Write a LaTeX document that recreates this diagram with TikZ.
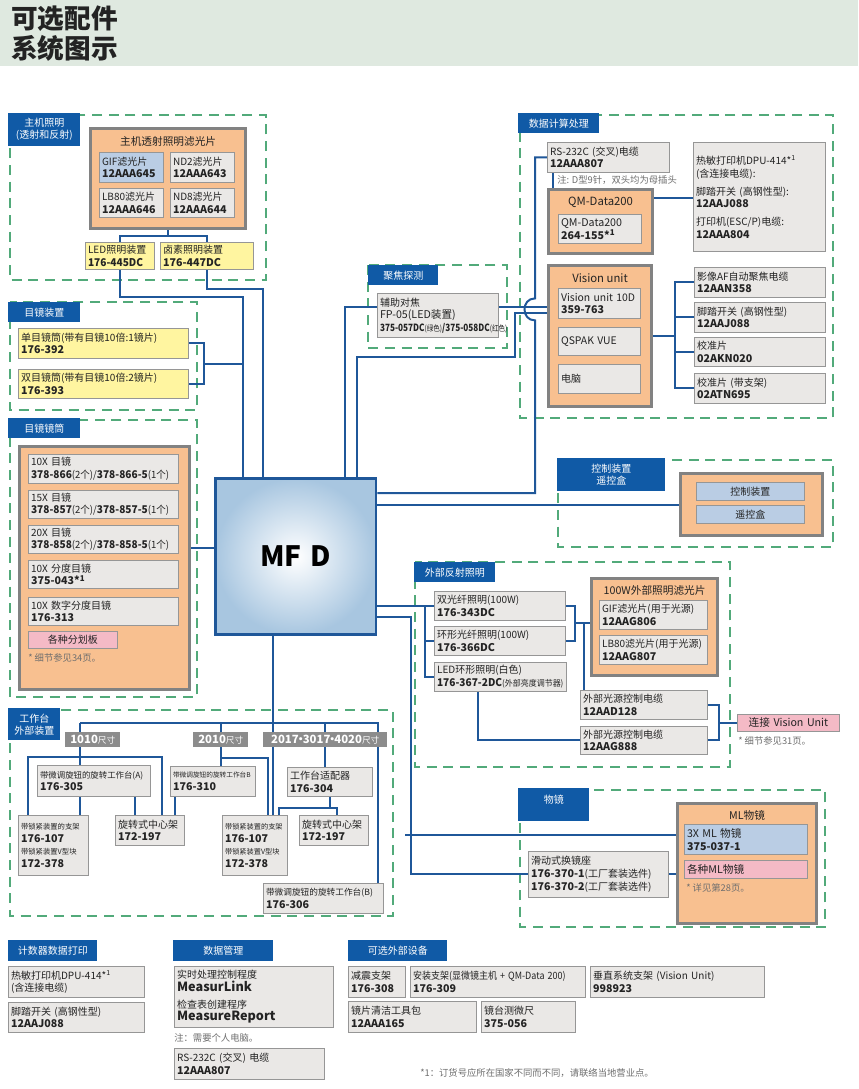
\documentclass[tikz,border=0pt]{standalone}
\usepackage{fontspec}
\setmainfont{Noto Sans CJK SC}
\usepackage{graphicx}
\usepackage{tikz}
\usetikzlibrary{positioning, calc}
\definecolor{hdrgreen}{RGB}{223,233,224}
\definecolor{tabblue}{RGB}{16,90,166}
\definecolor{wireblue}{RGB}{31,87,153}
\definecolor{dashgreen}{RGB}{82,170,122}
\definecolor{boxgray}{RGB}{234,232,230}
\definecolor{boxline}{RGB}{150,150,150}
\definecolor{cntline}{RGB}{130,130,130}
\definecolor{orangefill}{RGB}{248,192,144}
\definecolor{bluefill}{RGB}{186,205,228}
\definecolor{yellowfill}{RGB}{255,245,160}
\definecolor{pinkfill}{RGB}{244,186,198}
\definecolor{sizegray}{RGB}{140,140,140}
\definecolor{mfdblue}{RGB}{168,198,224}
\definecolor{txt}{RGB}{35,35,35}
\definecolor{notegray}{RGB}{110,110,110}
\pgfdeclarelayer{back}
\pgfdeclarelayer{wires}
\pgfsetlayers{back,wires,main}
\newcommand\pn[1]{{\fontsize{8}{9.5}\selectfont\bfseries #1}}
\newcommand\starone{*\textsuperscript{1}}
\newcommand\mdot{\makebox[3pt][c]{·}}
\tikzset{
  sz/.style 2 args={minimum width=#1*0.75pt, minimum height=#2*0.75pt, text width=#1*0.75pt-4pt},
  part/.style={draw=boxline, fill=boxgray, anchor=north west, inner xsep=2pt, inner ysep=0pt, align=left, text=txt, line width=0.6pt, font=\fontsize{7.5}{9.5}\selectfont},
  bluepart/.style={part, fill=bluefill},
  yelpart/.style={part, fill=yellowfill},
  pinkpart/.style={part, fill=pinkfill},
  holder/.style={draw=cntline, fill=orangefill, anchor=north west, line width=2.4pt, inner sep=0pt},
  holdtitle/.style={text=txt, font=\fontsize{8}{9}\selectfont},
  tab/.style={fill=tabblue, text=white, anchor=north west, align=center, inner xsep=2pt, inner ysep=0pt, font=\fontsize{7.5}{9}\selectfont},
  sizetab/.style={fill=sizegray, text=white, anchor=north west, align=center, inner xsep=2pt, inner ysep=0pt, font=\fontsize{8.5}{10}\selectfont\bfseries},
  note/.style={text=notegray, anchor=west, inner sep=0pt, font=\fontsize{7}{8}\selectfont},
  frame/.style={draw=dashgreen, line width=2.2pt, dash pattern=on 7.5pt off 5pt},
  wire/.style={draw=wireblue, line width=1.5pt},
  mfdbox/.style={draw=wireblue, line width=2.2pt, inner color=white, outer color=mfdblue, anchor=north west, align=center, text=black, font=\fontsize{21}{24}\selectfont\bfseries}
}
\begin{document}
\begin{tikzpicture}[x=0.75pt, y=-0.75pt]
  \useasboundingbox (0,0) rectangle (858,1089);
  \begin{pgfonlayer}{back}
    \fill[white] (0,0) rectangle (858,1089);
    \fill[hdrgreen] (0,0) rectangle (858,66);
    % section frames
    \draw[frame] (10,115) rectangle (266,280);
    \draw[frame] (10,302) rectangle (197,410);
    \draw[frame] (10,420) rectangle (197,697);
    \draw[frame] (368,265) rectangle (507,348);
    \draw[frame] (520,115) rectangle (833,418);
    \draw[frame] (558,460) rectangle (833,547);
    \draw[frame] (415,562) rectangle (730,767);
    \draw[frame] (10,710) rectangle (393,916);
    \draw[frame] (520,790) rectangle (825,927);
  \end{pgfonlayer}

  % Title
  \node[anchor=north west, align=left, text=txt, inner sep=0pt, font=\fontsize{20}{22}\selectfont\bfseries] (title) at (11,6) {可选配件\\系统图示};

  % Tabs
  \node[tab, sz={72}{33}] (tLamp) at (8,113) {主机照明\\(透射和反射)};
  \node[tab, sz={72}{20}] (tEye) at (8,302) {目镜装置};
  \node[tab, sz={72}{20}] (tTube) at (8,418) {目镜镜筒};
  \node[tab, sz={70}{20}] (tFocus) at (368,265) {聚焦探测};
  \node[tab, sz={81}{20}] (tData) at (518,113) {数据计算处理};
  \node[tab, sz={108}{33}] (tCtl) at (557,458) {控制装置\\遥控盒};
  \node[tab, sz={81}{20}] (tExt) at (414,562) {外部反射照明};
  \node[tab, sz={52}{32}] (tStage) at (8,708) {工作台\\外部装置};
  \node[tab, sz={71}{33}] (tObj) at (518,788) {物镜\\~};
  \node[tab, sz={89}{21}] (tCnt) at (8,940) {计数器数据打印};
  \node[tab, sz={100}{21}] (tMgmt) at (173,940) {数据管理};
  \node[tab, sz={99}{21}] (tOpt) at (348,940) {可选外部设备};

  % Main unit
  \node[mfdbox, sz={157}{156}] (mfd) at (214,477) {MF D};

  % Main illumination
  \node[holder, sz={155}{100}] (filt) at (89,127) {};
  \node[holdtitle] (filtT) at ($(filt.north)+(0,14)$) {主机透射照明滤光片};
  \node[bluepart, sz={64}{30}] (gif) at (99,152) {GIF滤光片\\\pn{12AAA645}};
  \node[part, sz={64}{30}] (nd2) at (170,152) {ND2滤光片\\\pn{12AAA643}};
  \node[part, sz={64}{29}] (lb80) at (99,188) {LB80滤光片\\\pn{12AAA646}};
  \node[part, sz={64}{29}] (nd8) at (170,188) {ND8滤光片\\\pn{12AAA644}};
  \node[yelpart, sz={69}{27}] (led) at (85,242) {LED照明装置\\\scalebox{0.95}[1]{\pn{176-445DC}}};
  \node[yelpart, sz={93}{27}] (hal) at (160,242) {卤素照明装置\\\pn{176-447DC}};

  % Eyepiece units
  \node[yelpart, sz={170}{30}] (mono) at (18,328) {单目镜筒(带有目镜10倍:1镜片)\\\pn{176-392}};
  \node[yelpart, sz={170}{29}] (bino) at (18,369) {双目镜筒(带有目镜10倍:2镜片)\\\pn{176-393}};

  % Eyepiece tube
  \node[holder, sz={170}{243}] (tube) at (18,445) {};
  \node[part, sz={150}{29}] (ep10) at (28,454) {10X 目镜\\\scalebox{0.95}[1]{\pn{378-866}(2个)/\pn{378-866-5}(1个)}};
  \node[part, sz={150}{28}] (ep15) at (28,490) {15X 目镜\\\scalebox{0.95}[1]{\pn{378-857}(2个)/\pn{378-857-5}(1个)}};
  \node[part, sz={150}{28}] (ep20) at (28,525) {20X 目镜\\\scalebox{0.95}[1]{\pn{378-858}(2个)/\pn{378-858-5}(1个)}};
  \node[part, sz={150}{28}] (epm) at (28,560) {10X 分度目镜\\\pn{375-043\starone}};
  \node[part, sz={150}{28}] (epd) at (28,597) {10X 数字分度目镜\\\pn{176-313}};
  \node[pinkpart, align=center, sz={89}{17}] (ret) at (28,631) {各种分划板};
  \node[note] (retN) at (28,658) {* 细节参见34页。};

  % Focus detection
  \node[part, sz={121}{44}] (fp) at (377,293) {辅助对焦\\{\fontsize{8}{10}\selectfont FP-05(LED装置)}\\\scalebox{0.82}[1]{\bfseries\fontsize{7.5}{9}\selectfont 375-057DC{\mdseries\fontsize{6}{6}\selectfont(绿色)}/375-058DC{\mdseries\fontsize{6}{6}\selectfont(红色)}}};

  % Data processing
  \node[part, sz={122}{30}] (rs) at (547,142) {RS-232C (交叉)电缆\\\pn{12AAA807}};
  \node[note] (rsN) at (557,180) {注: D型9针，双头均为母插头};
  \node[holder, sz={104}{64}] (qm) at (547,188) {};
  \node[holdtitle, font=\fontsize{8.5}{9}\selectfont] (qmT) at ($(qm.north)+(0,14)$) {QM-Data200};
  \node[part, sz={83}{29}] (qmi) at (558,214) {{\fontsize{8}{9.5}\selectfont QM-Data200}\\\pn{264-155\starone}};
  \node[part, sz={132}{109}] (prn) at (693,142) {热敏打印机DPU-414\starone\\(含连接电缆):\\[4pt]脚踏开关 (高钢性型):\\\pn{12AAJ088}\\[4pt]打印机(ESC/P)电缆:\\\pn{12AAA804}};
  \node[holder, sz={103}{141}] (vis) at (547,264) {};
  \node[holdtitle, font=\fontsize{8.5}{9}\selectfont] (visT) at ($(vis.north)+(0,14)$) {Vision unit};
  \node[part, sz={82}{30}] (v10) at (558,288) {{\fontsize{7.8}{9.5}\selectfont Vision unit 10D}\\\pn{359-763}};
  \node[part, sz={82}{28}] (qsp) at (558,327) {{\fontsize{7.8}{9.5}\selectfont QSPAK VUE}};
  \node[part, sz={82}{29}] (pc) at (558,364) {电脑};
  \node[part, sz={131}{30}] (afc) at (694,267) {影像AF自动聚焦电缆\\\pn{12AAN358}};
  \node[part, sz={131}{30}] (fsw2) at (694,302) {脚踏开关 (高钢性型)\\\pn{12AAJ088}};
  \node[part, sz={131}{29}] (cal1) at (694,337) {校准片\\\pn{02AKN020}};
  \node[part, sz={131}{30}] (cal2) at (694,373) {校准片 (带支架)\\\pn{02ATN695}};

  % Control unit
  \node[holder, sz={142}{62}] (ctl) at (679,472) {};
  \node[bluepart, align=center, sz={108}{18}] (ctl1) at (696,482) {控制装置};
  \node[bluepart, align=center, sz={108}{18}] (ctl2) at (696,505) {遥控盒};

  % External illumination
  \node[part, sz={131}{29}] (fib2) at (434,591) {双光纤照明(100W)\\\pn{176-343DC}};
  \node[part, sz={131}{29}] (ring) at (434,626) {环形光纤照明(100W)\\\pn{176-366DC}};
  \node[part, sz={132}{29}] (led2) at (434,662) {LED环形照明(白色)\\\scalebox{0.95}[1]{\pn{176-367-2DC}{\fontsize{6.3}{7}\selectfont(外部亮度调节器)}}};
  \node[holder, sz={126}{97}] (filt2) at (590,577) {};
  \node[holdtitle] (filt2T) at ($(filt2.north)+(0,13)$) {100W外部照明滤光片};
  \node[part, sz={108}{29}] (gif2) at (599,600) {GIF滤光片(用于光源)\\\pn{12AAG806}};
  \node[part, sz={108}{29}] (lb2) at (599,635) {LB80滤光片(用于光源)\\\pn{12AAG807}};
  \node[part, sz={127}{29}] (cab1) at (580,690) {外部光源控制电缆\\\pn{12AAD128}};
  \node[part, sz={127}{28}] (cab2) at (580,726) {外部光源控制电缆\\\pn{12AAG888}};
  \node[pinkpart, align=center, sz={102}{17}, font=\fontsize{8}{9}\selectfont] (vu) at (737,714) {连接 Vision Unit};
  \node[note] (vuN) at (738,741) {* 细节参见31页。};

  % Stage
  \node[sizetab, sz={55}{15}] (s1010) at (65,732) {1010{\fontsize{6.5}{7}\selectfont\mdseries 尺寸}};
  \node[sizetab, sz={55}{15}] (s2010) at (193,732) {2010{\fontsize{6.5}{7}\selectfont\mdseries 尺寸}};
  \node[sizetab, sz={124}{15}] (s2017) at (263,732) {2017\mdot3017\mdot4020{\fontsize{6.5}{7}\selectfont\mdseries 尺寸}};
  \node[part, sz={113}{31}] (rotA) at (37,765) {{\fontsize{6.3}{8}\selectfont 带微调旋钮的旋转工作台(A)}\\\pn{176-305}};
  \node[part, sz={85}{30}] (rotBs) at (170,766) {{\fontsize{5}{7}\selectfont 带微调旋钮的旋转工作台B}\\\pn{176-310}};
  \node[part, sz={85}{29}] (adp) at (287,767) {工作台适配器\\\pn{176-304}};
  \node[part, sz={70}{60}] (lock1) at (18,815) {{\fontsize{5.5}{7}\selectfont 带锁紧装置的支架}\\\pn{176-107}\\{\fontsize{5.5}{7}\selectfont 带锁紧装置V型块}\\\pn{172-378}};
  \node[part, sz={69}{30}] (rot1) at (115,815) {旋转式中心架\\\pn{172-197}};
  \node[part, sz={65}{60}] (lock2) at (222,815) {{\fontsize{5.4}{7}\selectfont 带锁紧装置的支架}\\\pn{176-107}\\{\fontsize{5.4}{7}\selectfont 带锁紧装置V型块}\\\pn{172-378}};
  \node[part, sz={69}{30}] (rot2) at (299,815) {旋转式中心架\\\pn{172-197}};
  \node[part, sz={120}{30}] (rotB) at (263,883) {{\fontsize{6.5}{8}\selectfont 带微调旋钮的旋转工作台(B)}\\\pn{176-306}};

  % Objective
  \node[holder, sz={139}{120}] (ml) at (676,802) {};
  \node[holdtitle] (mlT) at ($(ml.north)+(0,13)$) {ML物镜};
  \node[bluepart, sz={123}{30}] (ml3) at (684,824) {{\fontsize{8}{9.5}\selectfont 3X ML 物镜}\\\pn{375-037-1}};
  \node[pinkpart, sz={123}{18}, font=\fontsize{8}{9}\selectfont] (mlv) at (684,860) {各种ML物镜};
  \node[note] (mlN) at (686,888) {* 详见第28页。};
  \node[part, sz={140}{46}] (slide) at (528,851) {滑动式换镜座\\\pn{176-370-1}(工厂套装选件)\\\pn{176-370-2}(工厂套装选件)};

  % Counter data print
  \node[part, sz={136}{31}] (prt) at (8,966) {热敏打印机DPU-414\starone\\(含连接电缆)};
  \node[part, sz={136}{30}] (fsw3) at (8,1002) {脚踏开关 (高钢性型)\\\pn{12AAJ088}};

  % Data management
  \node[part, sz={159}{61}] (soft) at (174,966) {实时处理控制程度\\{\fontsize{9.5}{11}\selectfont\bfseries MeasurLink}\\[3pt]检查表创建程序\\{\fontsize{9.5}{11}\selectfont\bfseries MeasureReport}};
  \node[note] (softN) at (174,1038) {注：需要个人电脑。};
  \node[part, sz={150}{31}] (rs2) at (174,1048) {RS-232C (交叉) 电缆\\\pn{12AAA807}};

  % Optional peripherals
  \node[part, sz={57}{31}] (damp) at (348,966) {减震支架\\\pn{176-308}};
  \node[part, sz={175}{31}] (mnt) at (410,966) {\scalebox{0.9}[1]{安装支架(显微镜主机 + QM-Data 200)}\\\pn{176-309}};
  \node[part, sz={174}{31}] (vst) at (590,966) {垂直系统支架 (Vision Unit)\\\pn{998923}};
  \node[part, sz={128}{31}] (lens) at (348,1001) {镜片清洁工具包\\\pn{12AAA165}};
  \node[part, sz={94}{31}] (micro) at (481,1001) {镜台测微尺\\\pn{375-056}};
  \node[note] (foot) at (420,1073) {*1：订货号应所在国家不同而不同，请联络当地营业点。};

  % Connectors
  \begin{pgfonlayer}{wires}
    % main illumination
    \draw[wire] (filt.south) -- ++(0,6) coordinate (fj);
    \draw[wire] (led.north) |- (fj) -| (hal.north);
    \draw[wire] (led.south) -- ++(0,27) -| ($(mfd.north west)+(29,0)$);
    \draw[wire] (hal.south) -- ++(0,19) -| ($(mfd.north west)+(49,0)$);
    % eyepiece units and tube
    \draw[wire] (mono.east) -- ++(15,0) |- (bino.east);
    \draw[wire] ($(mono.east)!0.5!(bino.east)+(15,0)$) -- ++(40,0);
    \draw[wire] ($(mfd.north west)+(0,71)$) -- ++(-26,0);
    % focus and vision unit
    \draw[wire] ($(mfd.north west)+(131,0)$) |- ($(fp.west)+(0,-8)$);
    \draw[wire] ($(fp.east)+(0,-8)$) -- ++(49,0);
    \draw[wire] ($(mfd.north west)+(143,0)$) -- ++(0,-120) -- ++(158,0) |- ($(vis.north west)+(0,49)$);
    % data processing trunk
    \draw[wire] (rs.west) -- ++(-12,0) -- ++(0,141) .. controls +(-14,0) and +(-14,0) .. ++(0,22) |- ($(mfd.north east)+(0,16)$);
    \draw[wire] ($(rs.south west)+(6,0)$) -- ($(qm.north west)+(6,0)$);
    \draw[wire] ($(qm.north east)+(0,10)$) -- ++(42,0);
    \draw[wire] (vis.east) -- ++(22,0) coordinate (vj);
    \draw[wire] (afc.west) -| (vj) |- (cal2.west);
    \draw[wire] (fsw2.west) -- (fsw2.west -| vj);
    \draw[wire] (cal1.west) -- (cal1.west -| vj);
    % control
    \draw[wire] (ctl.west) -- (ctl.west -| mfd.east);
    % external illumination
    \draw[wire] (fib2.west -| mfd.east) -- (fib2.west);
    \draw[wire] ($(fib2.west)+(-9,0)$) |- (led2.west);
    \draw[wire] (ring.west) -- ++(-9,0);
    \draw[wire] (fib2.east) -- ++(9,0) |- (ring.east);
    \coordinate (fj2) at ($(fib2.east)!0.5!(ring.east)+(9,0)$);
    \coordinate (fj3) at ($(fj2)+(9,0)$);
    \draw[wire] (fj2) -- (fj2 -| filt2.west);
    \draw[wire] (fj3) -- (fj3 |- cab1.north);
    \draw[wire] ($(led2.south west)+(44,0)$) |- (cab2.west);
    \draw[wire] (cab1.east) -- ++(11,0) |- (cab2.east);
    \coordinate (cj) at ($(cab1.east)!0.5!(cab2.east)+(11,0)$);
    \draw[wire] (cj) -- (cj -| vu.west);
    % objective
    \draw[wire] ($(mfd.south east)+(0,-19)$) -- ++(34,0) |- (slide.west);
    \draw[wire] ($(ml.north west)+(0,33)$) -- ++(-271,0);
    \draw[wire] (slide.east) -- (slide.east -| ml.west);
    % stage
    \coordinate (busL) at (80,723);
    \coordinate (busR) at (378,723);
    \coordinate (mb) at ($(mfd.south west)+(59,0)$);
    \draw[wire] (mb) -- (mb |- lock2.north);
    \draw[wire] (busL) -- (busR) -- (busR |- rotB.north);
    \draw[wire] (busL) -- (busL |- rotA.north);
    \draw[wire] ($(lock1.north west)+(10,0)$) |- ($(rot1.north west)+(47,-58)$) -- ($(rot1.north west)+(47,0)$);
    \draw[wire] ($(rotA.south west)+(43,0)$) -- ++(0,19);
    \draw[wire] ($(rotA.south west)+(98,0)$) -- ++(0,19);
    \draw[wire] (s2010.north |- busL) -- (s2010.north |- rotBs.north);
    \draw[wire] (s2010.south) -- ++(0,10) -| ($(lock2.north west)+(46,0)$);
    \draw[wire] ($(rotBs.south west)+(5,0)$) -- ++(0,19);
    \draw[wire] (s2017.north |- busL) -- (s2017.north |- adp.north);
    \draw[wire] (adp.south) -- ++(0,11) coordinate (aj);
    \draw[wire] ($(lock2.north west)+(57,0)$) |- (aj) -| ($(rot2.north west)+(38,0)$);
  \end{pgfonlayer}
\end{tikzpicture}
\end{document}
